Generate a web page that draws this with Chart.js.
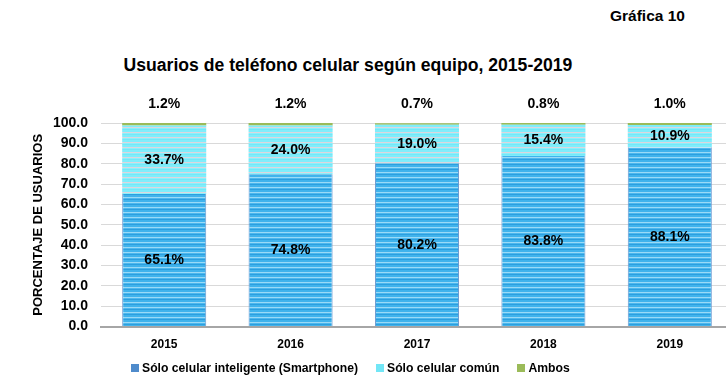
<!DOCTYPE html>
<html lang="es">
<head>
<meta charset="utf-8">
<title>Gráfica 10</title>
<script src="https://cdn.jsdelivr.net/npm/chart.js@4"></script>
<style>
  html, body { margin: 0; padding: 0; background: #fff; overflow: hidden; width: 726px; height: 387px; }
  body { position: relative; font-family: "Liberation Sans", Arial, sans-serif; font-weight: bold; color: #000; }
  #wrap { position: absolute; left: 0; top: 0; width: 740px; height: 387px; }
  #num { position: absolute; left: 610px; top: 7px; font-size: 15.5px; }
  #titulo { position: absolute; left: 0; width: 696px; top: 55px; text-align: center; font-size: 17.6px; }
  #leyenda { position: absolute; left: 131px; top: 361px; display: flex; align-items: center; font-size: 12.2px; }
  #leyenda span.sw { display: inline-block; width: 8px; height: 8px; margin-right: 3px; }
  #leyenda span.it { margin-right: 18px; }
</style>
</head>
<body>
<div id="num">Gráfica 10</div>
<div id="titulo">Usuarios de teléfono celular según equipo, 2015-2019</div>
<div id="wrap"><canvas id="grafica"></canvas></div>
<div id="leyenda"></div>

<script>
// datos //
const anios = ['2015', '2016', '2017', '2018', '2019'];
const smartphone = [65.1, 74.8, 80.2, 83.8, 88.1];
const celularComun = [33.7, 24.0, 19.0, 15.4, 10.9];
const ambos = [1.2, 1.2, 0.7, 0.8, 1.0];
const etiquetasY = ['0.0', '10.0', '20.0', '30.0', '40.0', '50.0', '60.0', '70.0', '80.0', '90.0', '100.0'];
const series = ['Sólo celular inteligente (Smartphone)', 'Sólo celular común', 'Ambos'];

// rayas de las barras
function rayas(colores) {
    const c = document.createElement('canvas');
    c.width = 1;
    c.height = colores.length;
    const g = c.getContext('2d');
    colores.forEach((col, i) => {
        g.fillStyle = col;
        g.fillRect(0, i, 1, 1);
    });
    return g.createPattern(c, 'repeat');
}

const azul = rayas(['#40B3EC', '#40B3EC', '#9ADAF7', '#4CB8EE', '#2C9FDF']);
const cian = rayas(['#80EDFB', '#80EDFB', '#DCD6DE', '#8EEFFA', '#74E8F8']);
const verde = '#9BBB59';
const coloresLeyenda = ['#4F8BCB', '#72E6F6', '#9BBB59'];

// etiquetas de valores
const etiquetas = {
    id: 'etiquetas',
    afterDatasetsDraw(chart) {
        const ctx = chart.ctx;
        ctx.save();
        ctx.font = 'bold 14px "Liberation Sans", Arial, sans-serif';
        ctx.fillStyle = '#000';
        ctx.textAlign = 'center';
        ctx.textBaseline = 'middle';
        chart.data.datasets.forEach((ds, i) => {
            chart.getDatasetMeta(i).data.forEach((bar, j) => {
                const txt = ds.data[j].toFixed(1) + '%';
                if (i === 2) {
                    ctx.fillText(txt, bar.x, chart.chartArea.top - 19);
                } else {
                    ctx.fillText(txt, bar.x, (bar.y + bar.base) / 2);
                }
            });
        });
        ctx.restore();
    }
};

const ctx = document.getElementById('grafica');

new Chart(ctx, {
    type: 'bar',
    data: {
        labels: anios,
        datasets: [{
            label: series[0],
            data: smartphone,
            backgroundColor: azul,
            borderColor: '#6C9AD0',
            borderWidth: { left: 1, right: 1 },
            borderSkipped: false
        }, {
            label: series[1],
            data: celularComun,
            backgroundColor: cian,
            borderWidth: 0
        }, {
            label: series[2],
            data: ambos,
            backgroundColor: verde,
            borderWidth: 0
        }]
    },
    options: {
        responsive: true,
        maintainAspectRatio: false,
        animation: false,
        layout: {
            padding: { top: 123, right: 7, bottom: 24, left: 0 }
        },
        datasets: {
            bar: { barPercentage: 0.665, categoryPercentage: 1 }
        },
        plugins: {
            legend: { display: false },
            title: { display: false },
            tooltip: { enabled: false }
        },
        scales: {
            x: {
                stacked: true,
                grid: { display: false, drawTicks: false },
                border: { display: true, color: '#A6A6A6', width: 2 },
                ticks: {
                    color: '#000',
                    padding: 11,
                    font: { family: '"Liberation Sans", Arial, sans-serif', size: 12, weight: 'bold' }
                }
            },
            y: {
                stacked: true,
                min: 0,
                max: 100,
                afterFit(scale) { scale.width = 101; },
                grid: { color: '#D9D9D9', drawTicks: false },
                border: { display: false },
                ticks: {
                    stepSize: 10,
                    color: '#000',
                    padding: 13,
                    font: { family: '"Liberation Sans", Arial, sans-serif', size: 14, weight: 'bold' },
                    callback: (v, i) => etiquetasY[i]
                },
                title: {
                    display: true,
                    text: 'PORCENTAJE DE USUARIOS',
                    color: '#000',
                    padding: { top: 31, bottom: 0 },
                    font: { family: '"Liberation Sans", Arial, sans-serif', size: 13, weight: 'bold' }
                }
            }
        }
    },
    plugins: [etiquetas]
});

// leyenda
const ley = document.getElementById('leyenda');
series.forEach((s, i) => {
    const sw = document.createElement('span');
    sw.className = 'sw';
    sw.style.background = coloresLeyenda[i];
    const it = document.createElement('span');
    it.className = 'it';
    it.textContent = s;
    ley.appendChild(sw);
    ley.appendChild(it);
});
</script>
</body>
</html>
